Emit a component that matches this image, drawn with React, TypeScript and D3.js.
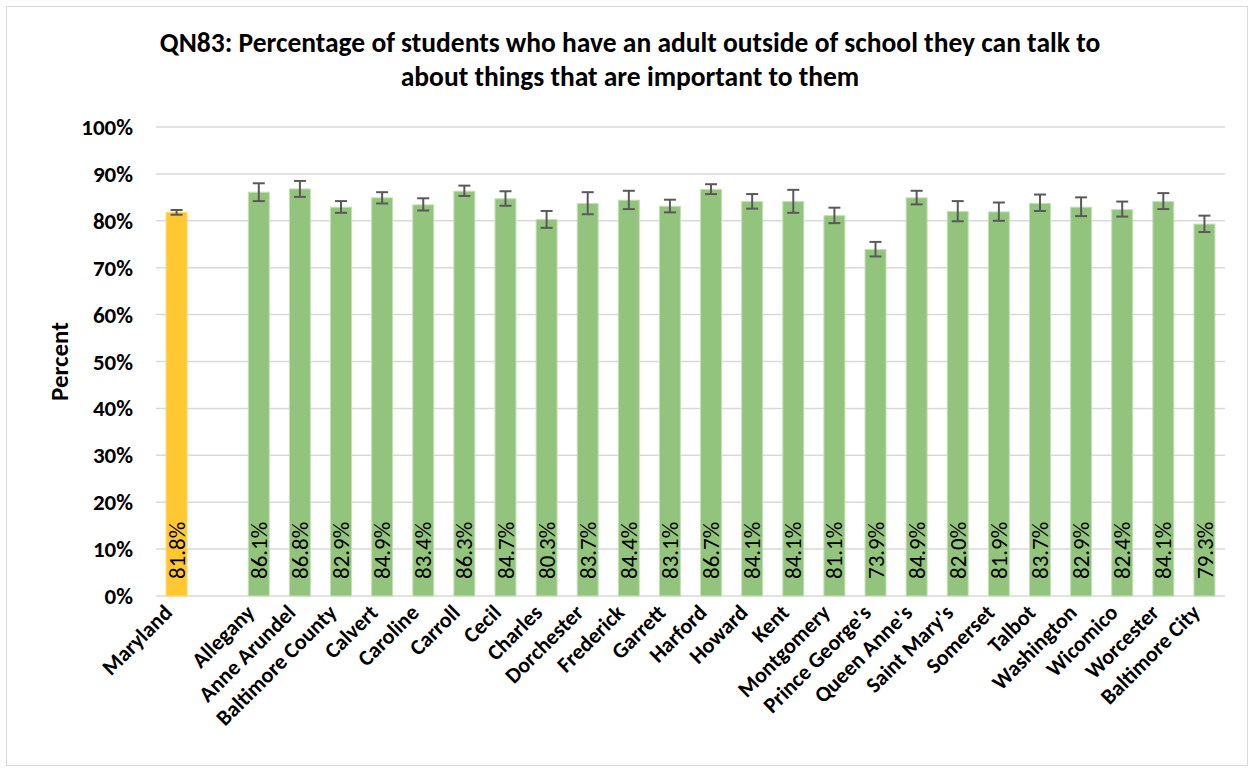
import React from "react";
import * as d3 from "d3";

const categories = ["Maryland", "", "Allegany", "Anne Arundel", "Baltimore County", "Calvert", "Caroline", "Carroll", "Cecil", "Charles", "Dorchester", "Frederick", "Garrett", "Harford", "Howard", "Kent", "Montgomery", "Prince George's", "Queen Anne's", "Saint Mary's", "Somerset", "Talbot", "Washington", "Wicomico", "Worcester", "Baltimore City"];
const values: (number | null)[] = [81.8, null, 86.1, 86.8, 82.9, 84.9, 83.4, 86.3, 84.7, 80.3, 83.7, 84.4, 83.1, 86.7, 84.1, 84.1, 81.1, 73.9, 84.9, 82.0, 81.9, 83.7, 82.9, 82.4, 84.1, 79.3];
const ciLow: (number | null)[] = [81.3, null, 84.2, 85.1, 81.7, 83.7, 82.2, 85.3, 83.2, 78.5, 81.4, 82.5, 81.8, 85.7, 82.6, 81.7, 79.5, 72.4, 83.5, 79.9, 80.0, 82.1, 81.0, 80.9, 82.5, 77.6];
const ciHigh: (number | null)[] = [82.3, null, 88.0, 88.5, 84.2, 86.1, 84.8, 87.5, 86.3, 82.1, 86.1, 86.4, 84.5, 87.8, 85.7, 86.6, 82.8, 75.5, 86.4, 84.2, 83.9, 85.6, 85.0, 84.1, 85.9, 81.1];
const yTicks = [0, 10, 20, 30, 40, 50, 60, 70, 80, 90, 100];
const titleLines = ["QN83: Percentage of students who have an adult outside of school they can talk to", "about things that are important to them"];

const W = 1251, H = 769;
const left = 156, right = 1225, top = 127, bottom = 596;
const font = "Carlito, Lato, 'Open Sans', sans-serif";

export default function App() {
  const x = d3.scaleBand<number>().domain(d3.range(categories.length)).range([left, right]).paddingInner(0.49).paddingOuter(0.245);
  const y = d3.scaleLinear().domain([0, 100]).range([bottom, top]);
  const bw = x.bandwidth();
  return (
    <svg width={W} height={H} style={{ position: "absolute", left: 0, top: 0 }} fontFamily={font}>
      <rect x={0} y={0} width={W} height={H} fill="#fff" />
      <rect x={6.5} y={6.5} width={W - 10} height={H - 10} fill="none" stroke="#D9D9D9" strokeWidth={1} />
      {titleLines.map((t, i) => (
        <text key={i} x={630} y={52 + i * 34} textAnchor="middle" fontWeight="bold" fontSize={27.5} fill="#000">{t}</text>
      ))}
      {yTicks.map(t => (
        <g key={t}>
          <line x1={left} x2={right} y1={y(t)} y2={y(t)} stroke="#D9D9D9" strokeWidth={1.5} />
          <text x={133} y={y(t)} dy="0.35em" textAnchor="end" fontWeight="bold" fontSize={23} fill="#000">{t}%</text>
        </g>
      ))}
      <text transform={`translate(68,${(top + bottom) / 2}) rotate(-90)`} textAnchor="middle" fontWeight="bold" fontSize={25} fill="#000">Percent</text>
      {values.map((v, i) => {
        if (v == null) return null;
        const cx = (x(i) as number) + bw / 2;
        const lo = ciLow[i] as number, hi = ciHigh[i] as number;
        return (
          <g key={i}>
            <rect x={x(i)} y={y(v)} width={bw} height={y(0) - y(v)} fill={i === 0 ? "#FFC832" : "#93C47D"} stroke={i === 0 ? "#FFD966" : "#C5E0B4"} strokeWidth={1} />
            <line x1={cx} x2={cx} y1={y(hi)} y2={y(lo)} stroke="#595959" strokeWidth={2} />
            <line x1={cx - 6} x2={cx + 6} y1={y(hi)} y2={y(hi)} stroke="#595959" strokeWidth={2} />
            <line x1={cx - 6} x2={cx + 6} y1={y(lo)} y2={y(lo)} stroke="#595959" strokeWidth={2} />
            <text transform={`translate(${cx},${bottom - 17}) rotate(-90)`} dy="0.35em" textAnchor="start" fontSize={23} fill="#000">{v.toFixed(1)}%</text>
          </g>
        );
      })}
      {categories.map((c, i) => {
        const cx = (x(i) as number) + bw / 2;
        return (
          <text key={i} transform={`translate(${cx - 3},${bottom + 18}) rotate(-45)`} textAnchor="end" fontWeight="bold" fontSize={22} fill="#000">{c}</text>
        );
      })}
    </svg>
  );
}
